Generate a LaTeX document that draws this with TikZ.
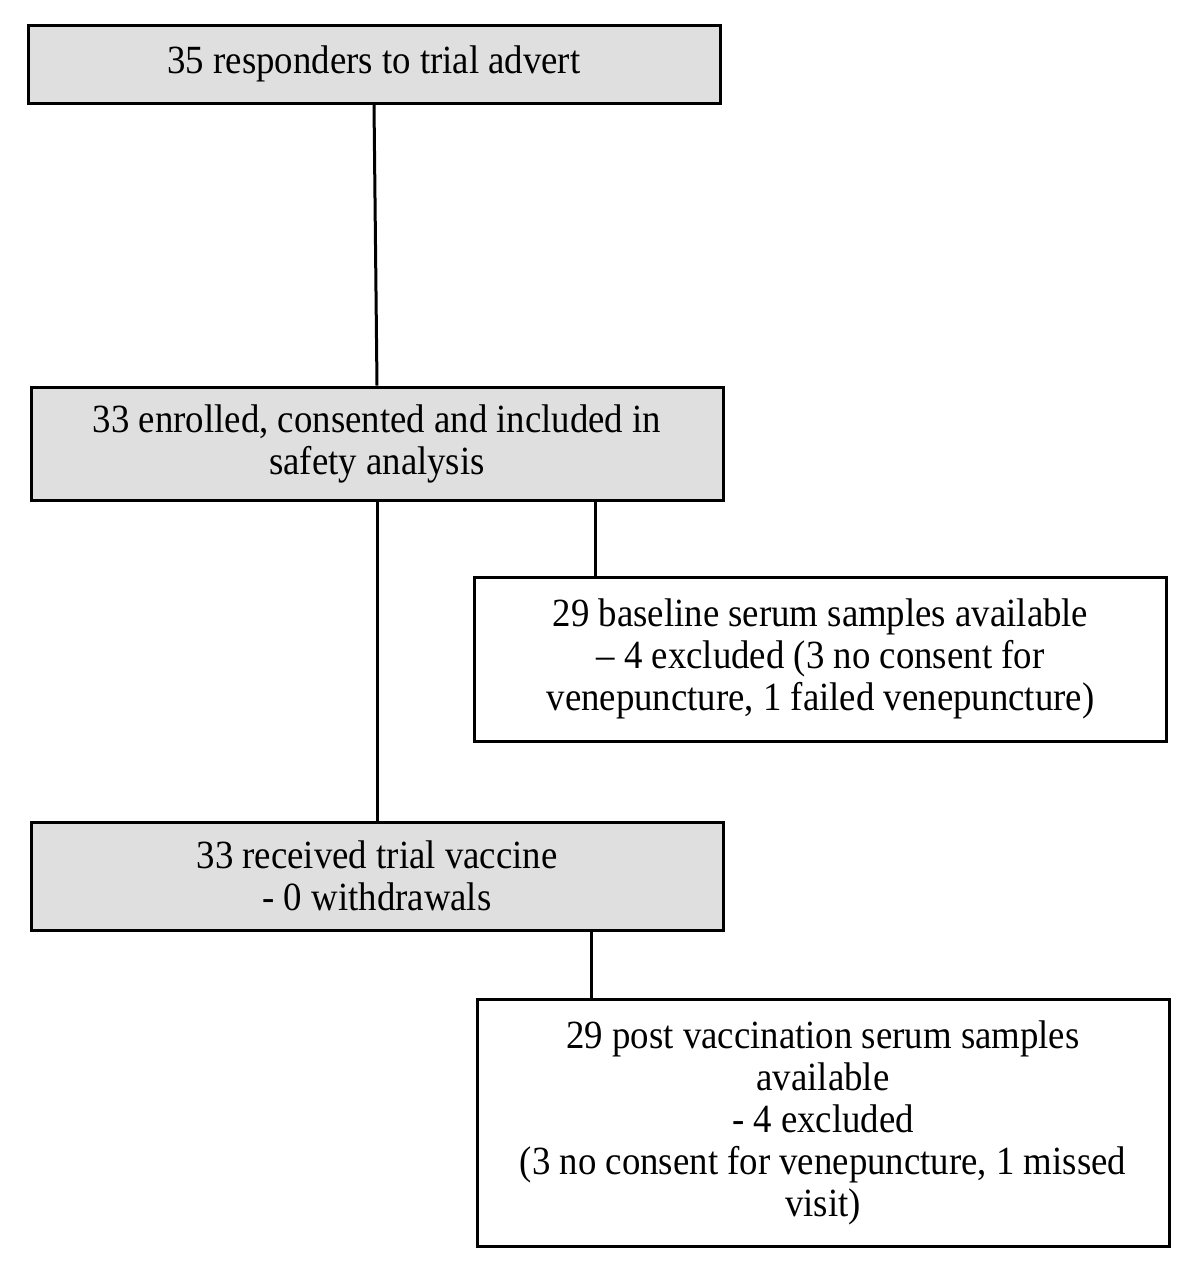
\documentclass[tikz,border=0pt]{standalone}
\usepackage{fontspec}
\setmainfont[FakeStretch=0.92]{Liberation Serif}
\usepackage{tikz}
\usetikzlibrary{calc}

\begin{document}
\begin{tikzpicture}[x=1pt, y=-1pt,
    box/.style={draw=black, line width=3pt, minimum width=692pt, align=center,
                inner sep=0pt, font=\fontsize{40}{42}\selectfont},
    graybox/.style={box, fill=gray!25},
    whitebox/.style={box, fill=white},
    link/.style={black, line width=3pt}]
    \useasboundingbox (0,0) rectangle (1200,1267);% Page size

    % Main column
    \node[graybox, minimum height=78pt]  (advert)  at (374,64)    {35 responders to trial advert};
    \node[graybox, minimum height=113pt] (enrol)   at (377,443.5) {33 enrolled, consented and included in\\ safety analysis};
    \node[graybox, minimum height=108pt] (vaccine) at (377,876)   {33 received trial vaccine\\ - 0 withdrawals};

    % Side boxes
    \node[whitebox, minimum height=164pt] (baseline) at (820.5,659) {29 baseline serum samples available\\ -- 4 excluded (3 no consent for\\ venepuncture, 1 failed venepuncture)};
    \node[whitebox, minimum height=247pt] (post) at (823,1122.5) {29 post vaccination serum samples\\ available\\ - 4 excluded\\ (3 no consent for venepuncture, 1 missed\\ visit)};

    % Connectors
    \coordinate (BranchOne) at ($(enrol.south east)+(-129,0)$);
    \coordinate (BranchTwo) at ($(vaccine.south east)+(-133,0)$);
    \draw[link] (advert.south) -- (enrol.north);
    \draw[link] (enrol.south) -- (vaccine.north);
    \draw[link] (BranchOne) -- (BranchOne |- baseline.north);
    \draw[link] (BranchTwo) -- (BranchTwo |- post.north);
\end{tikzpicture}
\end{document}
